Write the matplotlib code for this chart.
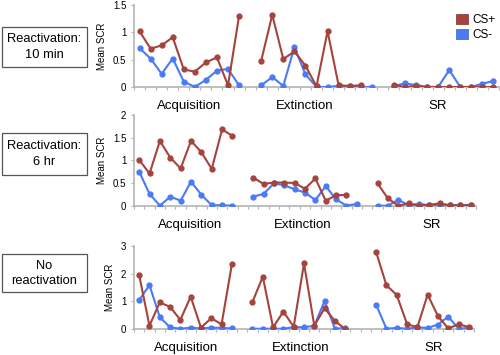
import numpy as np
import matplotlib
matplotlib.use("Agg")
import matplotlib.pyplot as plt
from matplotlib.patches import Patch, Rectangle

plt.rcParams['font.family'] = ['Liberation Sans', 'DejaVu Sans']

nan = np.nan

# — Dados —
# cada painel: 33 categorias = aquisição (0-9), vazio, extinção (11-21), vazio, SR (23-32)
painel_titulos = ["Reactivation:\n10 min", "Reactivation:\n6 hr", "No\nreactivation"]
fases = ["Acquisition", "Extinction", "SR"]

acq_mais_10min = [1.02, 0.70, 0.76, 0.91, 0.32, 0.28, 0.45, 0.54, 0.03, 1.30]
acq_menos_10min = [0.71, 0.52, 0.24, 0.52, 0.10, 0.00, 0.13, 0.30, 0.33, 0.03]
ext_mais_10min = [0.48, 1.32, 0.51, 0.65, 0.39, 0.01, 1.02, 0.03, 0.02, 0.03, nan]
ext_menos_10min = [0.03, 0.18, 0.02, 0.73, 0.23, 0.00, 0.00, 0.02, 0.01, 0.00, 0.00]
sr_mais_10min = [0.04, 0.00, 0.02, 0.00, 0.00, 0.00, 0.00, 0.00, 0.00, 0.00]
sr_menos_10min = [0.02, 0.065, 0.035, 0.00, 0.00, 0.31, 0.00, 0.00, 0.06, 0.11]

acq_mais_6h = [1.01, 0.71, 1.43, 1.06, 0.82, 1.43, 1.18, 0.81, 1.68, 1.54]
acq_menos_6h = [0.75, 0.26, 0.00, 0.20, 0.11, 0.53, 0.24, 0.01, 0.01, 0.00]
ext_mais_6h = [0.62, 0.48, 0.51, 0.51, 0.50, 0.375, 0.60, 0.11, 0.23, 0.24, nan]
ext_menos_6h = [0.20, 0.26, 0.49, 0.45, 0.36, 0.29, 0.125, 0.43, 0.14, 0.00, 0.04]
sr_mais_6h = [0.49, 0.16, 0.00, 0.05, 0.00, 0.02, 0.05, 0.01, 0.01, 0.01]
sr_menos_6h = [0.00, 0.00, 0.13, 0.01, 0.04, 0.01, 0.01, 0.01, 0.01, 0.02]

acq_mais_nr = [1.95, 0.12, 0.96, 0.80, 0.33, 1.17, 0.05, 0.39, 0.17, 2.34]
acq_menos_nr = [1.04, 1.59, 0.43, 0.06, 0.01, 0.05, 0.02, 0.05, 0.04, 0.02]
ext_mais_nr = [0.98, 1.89, 0.06, 0.63, 0.08, 2.37, 0.12, 0.75, 0.29, 0.00, nan]
ext_menos_nr = [0.01, 0.01, 0.01, 0.01, 0.07, 0.06, 0.12, 1.01, 0.01, 0.04, nan]
sr_mais_nr = [2.78, 1.58, 1.23, 0.18, 0.06, 1.24, 0.47, 0.02, 0.17, 0.07]
sr_menos_nr = [0.88, 0.01, 0.04, 0.01, 0.06, 0.04, 0.16, 0.45, 0.01, 0.04]

ymax = [1.5, 2, 3]
yticks = [[0, 0.5, 1, 1.5], [0, 0.5, 1, 1.5, 2], [0, 1, 2, 3]]
# centro (em categorias) dos rótulos de fase em cada painel
pos_rotulos = [[4.5, 14.9, 27.0], [4.9, 15.8, 28.2], [4.6, 15.7, 28.6]]

dados = [
    (acq_mais_10min, acq_menos_10min, ext_mais_10min, ext_menos_10min, sr_mais_10min, sr_menos_10min),
    (acq_mais_6h, acq_menos_6h, ext_mais_6h, ext_menos_6h, sr_mais_6h, sr_menos_6h),
    (acq_mais_nr, acq_menos_nr, ext_mais_nr, ext_menos_nr, sr_mais_nr, sr_menos_nr),
]

VERMELHO = '#A5433D'
AZUL = '#4A7BF5'
CINZA = '#B4B4B4'

# — Layout (frações da figura) —
eixos_pos = [
    [0.268, 0.755, 0.730, 0.231],
    [0.268, 0.4206, 0.684, 0.2555],
    [0.268, 0.0732, 0.680, 0.234],
]
caixas = [(0.004, 0.811, 0.170, 0.113), (0.004, 0.507, 0.170, 0.118), (0.004, 0.177, 0.170, 0.107)]

fig = plt.figure(figsize=(5, 3.55), dpi=100)

x_acq = np.arange(0, 10)
x_ext = np.arange(11, 22)
x_sr = np.arange(23, 33)

for i in range(3):
    ax = fig.add_axes(eixos_pos[i])
    am, an, em, en, sm, sn = dados[i]
    for xs, ys_m, ys_n in [(x_acq, am, an), (x_ext, em, en), (x_sr, sm, sn)]:
        ax.plot(xs, ys_n, color=AZUL, lw=1.5, marker='o', ms=3.5, zorder=3)
        ax.plot(xs, ys_m, color=VERMELHO, lw=1.5, marker='o', ms=3.5, zorder=4)
    ax.set_xlim(-0.5, 32.5)
    ax.set_ylim(0, ymax[i])
    ax.set_yticks(yticks[i])
    ax.set_yticklabels([f"{t:g}" for t in yticks[i]])
    ax.set_xticks([])
    ax.set_xticks(np.arange(-0.5, 33, 1), minor=True)
    ax.tick_params(axis='x', which='minor', length=2.5, width=0.8, color=CINZA)
    ax.tick_params(axis='y', length=2.5, width=0.8, color=CINZA, labelsize=7, pad=3)
    for s in ['top', 'right']:
        ax.spines[s].set_visible(False)
    for s in ['left', 'bottom']:
        ax.spines[s].set_color(CINZA)
        ax.spines[s].set_linewidth(1.2)
    ax.spines['bottom'].set_zorder(1)
    ax.set_ylabel("Mean SCR", fontsize=7, labelpad=4)
    for xc, nome in zip(pos_rotulos[i], fases):
        ax.annotate(nome, xy=(xc, 0), xycoords=('data', 'axes fraction'),
                    xytext=(0, -19), textcoords='offset pixels',
                    ha='center', va='center', fontsize=9.5)

    x0, y0, w, h = caixas[i]
    fig.patches.append(Rectangle((x0, y0), w, h, transform=fig.transFigure,
                                 fill=False, edgecolor='#555555', lw=0.9))
    fig.text(x0 + w / 2, y0 + h / 2, painel_titulos[i], ha='center', va='center',
             fontsize=9.3, linespacing=1.35)

# — Legenda —
handles = [Patch(facecolor=VERMELHO, edgecolor='#7a2e2a', lw=0.5),
           Patch(facecolor=AZUL, edgecolor='#3a5fc0', lw=0.5)]
fig.legend(handles, ["CS+", "CS-"], loc='upper left', bbox_to_anchor=(0.895, 0.985),
           frameon=False, fontsize=8.5, handlelength=1.0, handleheight=1.0,
           handletextpad=0.4, labelspacing=0.25, borderpad=0.2)

fig.savefig("out.png", dpi=100)
